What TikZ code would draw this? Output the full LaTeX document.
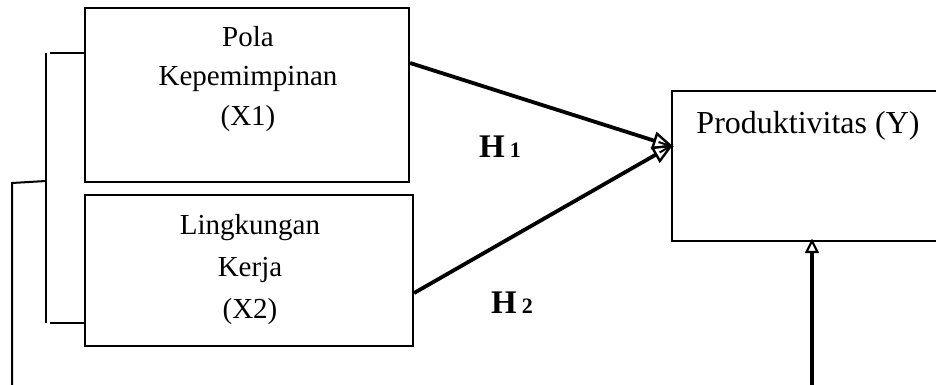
\documentclass[tikz,border=0pt]{standalone}
\usepackage{fontspec}
\setmainfont{Liberation Serif}
\usetikzlibrary{arrows.meta,calc}
\begin{document}
\begin{tikzpicture}[x=1pt,y=-1pt,
  box/.style={draw,line width=2.2pt,rectangle,inner sep=0pt},
  lbl/.style={anchor=base,inner sep=0pt,font=\fontsize{29}{34}\selectfont},
  hyp/.style={anchor=base west,inner sep=0pt,font=\fontsize{33}{36}\selectfont\bfseries},
  headA/.style={line width=2.4pt,fill=white},
  link/.style={line width=3.8pt},
  brk/.style={line width=2pt}]
\useasboundingbox (0,0) rectangle (936,385);
\clip (0,0) rectangle (936,385);
% boxes
\node[box,minimum width=324pt,minimum height=174pt] (x1) at (247,95) {};
\node[box,minimum width=328pt,minimum height=151pt] (x2) at (249,270.5) {};
\node[box,minimum width=290pt,minimum height=150pt] (y) at (817,166) {};
% texts
\node[lbl] (t1a) at (248,47) {Pola};
\node[lbl] (t1b) at (248,86) {Kepemimpinan};
\node[lbl] (t1c) at (248,125) {(X1)};
\node[lbl] (t2a) at (250,234) {Lingkungan};
\node[lbl] (t2b) at (250,276) {Kerja};
\node[lbl] (t2c) at (250,318) {(X2)};
\node[lbl,font=\fontsize{32}{36}\selectfont] (ty) at (808,133) {Produktivitas (Y)};
\node[hyp] (h1) at (479,157) {H\hspace{5pt}{\fontsize{22}{24}\selectfont 1}};
\node[hyp] (h2) at (491,313) {H\hspace{5pt}{\fontsize{22}{24}\selectfont 2}};
% connector coordinates
\coordinate (a1) at (x1.east |- 0,63);
\coordinate (a2) at (x2.east |- 0,293);
\coordinate (tip) at (y.west |- 0,146);
\coordinate (yb) at (812,241);
\coordinate (ybot) at (812,390);
\draw[link] (a1) -- ($(tip)!15pt!(a1)$);
\draw[link] (a2) -- ($(tip)!15pt!(a2)$);
% open arrowheads drawn as triangles
\draw[headA,line join=miter] (tip) -- ($(tip)!17pt!(a1)!7.5pt!90:(a1)$) -- ($(tip)!17pt!(a1)!7.5pt!-90:(a1)$) -- cycle;
\draw[headA,line join=miter] (tip) -- ($(tip)!17pt!(a2)!7.5pt!90:(a2)$) -- ($(tip)!17pt!(a2)!7.5pt!-90:(a2)$) -- cycle;
\draw[line width=2pt] ($(tip)!13pt!(a1)$) -- ($(tip)!1pt!(a1)$);
\draw[line width=2pt] ($(tip)!13pt!(a2)$) -- ($(tip)!1pt!(a2)$);
\draw[line width=3.8pt] (ybot) -- ($(yb)+(0,9)$);
\draw[line width=2.2pt,fill=white,line join=miter] (yb) -- ($(yb)+(-5.5,11)$) -- ($(yb)+(5.5,11)$) -- cycle;
% bracket
\coordinate (b1) at (x1.west |- 0,53);
\coordinate (b2) at (x2.west |- 0,323);
\coordinate (bm) at (46,181);
\coordinate (bl) at (12,183);
\coordinate (bbot) at (12,390);
\draw[brk] (b1) -- (50,53);
\draw[brk] (b2) -- (50,323);
\draw[brk] (46,53) -- (46,323);
\draw[brk] (bm) -- (bl) -- (bbot);
\end{tikzpicture}
\end{document}
